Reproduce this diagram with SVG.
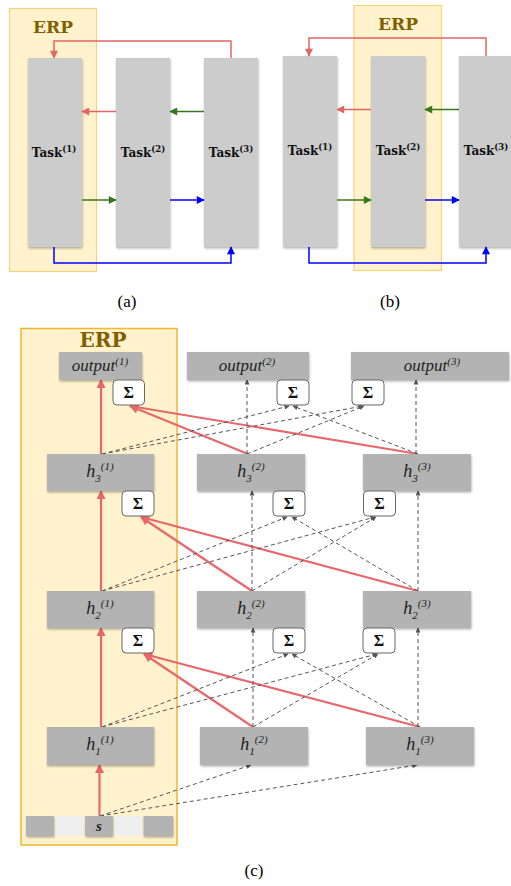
<svg xmlns="http://www.w3.org/2000/svg" width="511" height="886" viewBox="0 0 511 886">
<defs>
<filter id="sh" x="-10%" y="-10%" width="130%" height="140%">
<feDropShadow dx="0.5" dy="1.5" stdDeviation="1" flood-color="#000" flood-opacity="0.3"/>
</filter>
<marker id="aR" viewBox="0 0 10 10" refX="9" refY="5" markerWidth="9" markerHeight="8" markerUnits="userSpaceOnUse" orient="auto"><path d="M0,0 L10,5 L0,10 z" fill="#e06666"/></marker>
<marker id="aG" viewBox="0 0 10 10" refX="9" refY="5" markerWidth="9" markerHeight="8" markerUnits="userSpaceOnUse" orient="auto"><path d="M0,0 L10,5 L0,10 z" fill="#38761d"/></marker>
<marker id="aB" viewBox="0 0 10 10" refX="9" refY="5" markerWidth="9" markerHeight="8" markerUnits="userSpaceOnUse" orient="auto"><path d="M0,0 L10,5 L0,10 z" fill="#0000ff"/></marker>
<marker id="aRc" viewBox="0 0 10 10" refX="9" refY="5" markerWidth="11" markerHeight="9" markerUnits="userSpaceOnUse" orient="auto"><path d="M0,0 L10,5 L0,10 z" fill="#e8676b"/></marker>
<marker id="aD" viewBox="0 0 10 10" refX="9" refY="5" markerWidth="6" markerHeight="5" markerUnits="userSpaceOnUse" orient="auto"><path d="M0,0 L10,5 L0,10 z" fill="#555"/></marker>
</defs>
<style>
.erpA{fill:#fff2cc;stroke:#f3d57e;stroke-width:1.2}
.erpC{fill:#fff2cc;stroke:#f1b72e;stroke-width:1.5}
.erpT{font-family:"DejaVu Serif",serif;font-weight:bold;fill:#7f6000;text-anchor:middle}
.task{fill:#cccccc;filter:url(#sh)}
.taskT{font-family:"DejaVu Serif",serif;font-weight:bold;font-size:12px;fill:#111;text-anchor:middle}
.box{fill:#b3b3b3;filter:url(#sh)}
.lt{fill:#eeeeee}
.sig{fill:#fff;stroke:#666;stroke-width:1}
.sigT{font-family:"Liberation Serif","DejaVu Serif",serif;font-weight:bold;font-size:16px;fill:#111;text-anchor:middle}
.it{font-family:"Liberation Serif",serif;font-style:italic;fill:#222;text-anchor:middle}
.lab{font-family:"Liberation Serif",serif;font-size:17px;fill:#000;text-anchor:middle}
.r{stroke:#e06666;stroke-width:1.5;fill:none;marker-end:url(#aR)}
.g{stroke:#38761d;stroke-width:1.5;fill:none;marker-end:url(#aG)}
.b{stroke:#0000ff;stroke-width:1.5;fill:none;marker-end:url(#aB)}
.rc{stroke:#e8676b;stroke-width:2.2;fill:none;marker-end:url(#aRc)}
.d{stroke:#555;stroke-width:1;stroke-dasharray:4,3;fill:none;marker-end:url(#aD)}
</style>
<rect width="511" height="886" fill="#fff"/>

<!-- (a) -->
<g id="a-erp"><rect class="erpA" x="9.5" y="8.5" width="87" height="263"/><text class="erpT" x="53" y="33" font-size="17">ERP</text></g>
<g id="a-task1"><rect class="task" x="28" y="58" width="54" height="189"/><text class="taskT" x="54" y="157">Task<tspan font-size="8.5" dy="-5">(1)</tspan></text></g>
<g id="a-task2"><rect class="task" x="116" y="58" width="54" height="189"/><text class="taskT" x="143" y="157">Task<tspan font-size="8.5" dy="-5">(2)</tspan></text></g>
<g id="a-task3"><rect class="task" x="204" y="58" width="54" height="189"/><text class="taskT" x="231" y="157">Task<tspan font-size="8.5" dy="-5">(3)</tspan></text></g>
<g id="a-connectors">
<path class="r" d="M231,58 V41 H54 V58"/>
<path class="r" d="M116,111.5 H82"/>
<path class="g" d="M204,111.5 H170"/>
<path class="g" d="M82,200 H116"/>
<path class="b" d="M170,200 H204"/>
<path class="b" d="M54,247 V263 H231 V247"/>
</g>
<text class="lab" x="127" y="307">(a)</text>

<!-- (b) -->
<g id="b-erp"><rect class="erpA" x="354" y="5.5" width="87.5" height="265"/><text class="erpT" x="398" y="30" font-size="17">ERP</text></g>
<g id="b-task1"><rect class="task" x="283" y="56" width="54" height="191"/><text class="taskT" x="310" y="155">Task<tspan font-size="8.5" dy="-5">(1)</tspan></text></g>
<g id="b-task2"><rect class="task" x="371" y="56" width="54" height="191"/><text class="taskT" x="398" y="155">Task<tspan font-size="8.5" dy="-5">(2)</tspan></text></g>
<g id="b-task3"><rect class="task" x="459" y="56" width="54" height="191"/><text class="taskT" x="486" y="155">Task<tspan font-size="8.5" dy="-5">(3)</tspan></text></g>
<g id="b-connectors">
<path class="r" d="M486,56 V38 H309 V56"/>
<path class="r" d="M371,109.5 H337"/>
<path class="g" d="M459,109.5 H425"/>
<path class="g" d="M337,200 H371"/>
<path class="b" d="M425,200 H459"/>
<path class="b" d="M309,247 V263 H486 V247"/>
</g>
<text class="lab" x="390" y="307">(b)</text>

<!-- (c) -->
<g id="c-erp"><rect class="erpC" x="21" y="328.5" width="156" height="516.5"/><text class="erpT" x="103" y="347" font-size="20">ERP</text></g>

<g id="c-connectors">
<path class="rc" d="M99.5,816 V765"/>
<path class="rc" d="M101,727 V628"/>
<path class="rc" d="M101,591 V491"/>
<path class="rc" d="M101,454 V380"/>
<path class="rc" d="M248,454 L130,406"/>
<path class="rc" d="M418,454 L130,406"/>
<path class="rc" d="M252,591 L141,517"/>
<path class="rc" d="M418,591 L141,517"/>
<path class="rc" d="M253,727 L144,654"/>
<path class="rc" d="M420,727 L144,654"/>
<path class="d" d="M100,816 L251,765"/>
<path class="d" d="M100,816 L417,765"/>
<path class="d" d="M253,727 V628"/>
<path class="d" d="M418,727 V628"/>
<path class="d" d="M102,727 L288,654"/>
<path class="d" d="M102,727 L377,654"/>
<path class="d" d="M253,727 L378,654"/>
<path class="d" d="M420,727 L292,654"/>
<path class="d" d="M252,591 V491"/>
<path class="d" d="M418,591 V491"/>
<path class="d" d="M102,591 L287,517"/>
<path class="d" d="M102,591 L375,517"/>
<path class="d" d="M252,591 L376,517"/>
<path class="d" d="M418,591 L292,517"/>
<path class="d" d="M247,454 V380"/>
<path class="d" d="M416,454 V380"/>
<path class="d" d="M102,454 L289,406"/>
<path class="d" d="M102,454 L363,406"/>
<path class="d" d="M247,454 L364,406"/>
<path class="d" d="M418,454 L293,406"/>
</g>

<g id="c-output1"><rect class="box" x="59" y="352" width="83" height="28"/><text class="it" x="100" y="371" font-size="17">output<tspan font-size="11" dy="-6">(1)</tspan></text></g>
<g id="c-output2"><rect class="box" x="187" y="352" width="122" height="28"/><text class="it" x="247" y="371" font-size="17">output<tspan font-size="11" dy="-6">(2)</tspan></text></g>
<g id="c-output3"><rect class="box" x="351" y="352" width="158" height="28"/><text class="it" x="432" y="371" font-size="17">output<tspan font-size="11" dy="-6">(3)</tspan></text></g>

<g id="c-sum-o1"><rect class="sig" x="113" y="380" width="31.5" height="25" rx="4"/><text class="sigT" x="128.7" y="398">Σ</text></g>
<g id="c-sum-o2"><rect class="sig" x="277" y="380" width="32" height="25" rx="4"/><text class="sigT" x="293" y="398">Σ</text></g>
<g id="c-sum-o3"><rect class="sig" x="352" y="380" width="32" height="25" rx="4"/><text class="sigT" x="368" y="398">Σ</text></g>

<g id="c-h3-1"><rect class="box" x="47" y="454" width="107" height="37"/><text class="it" x="100" y="477" font-size="18">h<tspan font-size="11" dy="5">3</tspan><tspan font-size="11" dy="-12">(1)</tspan></text></g>
<g id="c-h3-2"><rect class="box" x="197" y="454" width="108" height="37"/><text class="it" x="251" y="477" font-size="18">h<tspan font-size="11" dy="5">3</tspan><tspan font-size="11" dy="-12">(2)</tspan></text></g>
<g id="c-h3-3"><rect class="box" x="363" y="454" width="108" height="37"/><text class="it" x="417" y="477" font-size="18">h<tspan font-size="11" dy="5">3</tspan><tspan font-size="11" dy="-12">(3)</tspan></text></g>

<g id="c-sum-h3-1"><rect class="sig" x="122" y="491" width="32" height="25" rx="4"/><text class="sigT" x="138" y="509">Σ</text></g>
<g id="c-sum-h3-2"><rect class="sig" x="273" y="491" width="32" height="25" rx="4"/><text class="sigT" x="289" y="509">Σ</text></g>
<g id="c-sum-h3-3"><rect class="sig" x="363.5" y="491" width="32" height="25" rx="4"/><text class="sigT" x="379.5" y="509">Σ</text></g>

<g id="c-h2-1"><rect class="box" x="47" y="591" width="107" height="37"/><text class="it" x="100" y="614" font-size="18">h<tspan font-size="11" dy="5">2</tspan><tspan font-size="11" dy="-12">(1)</tspan></text></g>
<g id="c-h2-2"><rect class="box" x="197" y="591" width="108" height="37"/><text class="it" x="251" y="614" font-size="18">h<tspan font-size="11" dy="5">2</tspan><tspan font-size="11" dy="-12">(2)</tspan></text></g>
<g id="c-h2-3"><rect class="box" x="363" y="591" width="108" height="37"/><text class="it" x="417" y="614" font-size="18">h<tspan font-size="11" dy="5">2</tspan><tspan font-size="11" dy="-12">(3)</tspan></text></g>

<g id="c-sum-h2-1"><rect class="sig" x="122" y="628" width="32" height="25" rx="4"/><text class="sigT" x="138" y="646">Σ</text></g>
<g id="c-sum-h2-2"><rect class="sig" x="273" y="628" width="32" height="25" rx="4"/><text class="sigT" x="289" y="646">Σ</text></g>
<g id="c-sum-h2-3"><rect class="sig" x="363" y="628" width="32" height="25" rx="4"/><text class="sigT" x="379" y="646">Σ</text></g>

<g id="c-h1-1"><rect class="box" x="47" y="727" width="107" height="38"/><text class="it" x="100" y="750" font-size="18">h<tspan font-size="11" dy="5">1</tspan><tspan font-size="11" dy="-12">(1)</tspan></text></g>
<g id="c-h1-2"><rect class="box" x="200" y="727" width="108" height="38"/><text class="it" x="254" y="750" font-size="18">h<tspan font-size="11" dy="5">1</tspan><tspan font-size="11" dy="-12">(2)</tspan></text></g>
<g id="c-h1-3"><rect class="box" x="366" y="727" width="108" height="38"/><text class="it" x="420" y="750" font-size="18">h<tspan font-size="11" dy="5">1</tspan><tspan font-size="11" dy="-12">(3)</tspan></text></g>

<g id="c-input">
<rect class="box" x="26" y="816" width="28" height="20"/>
<rect class="lt" x="55.5" y="816" width="28" height="20"/>
<rect class="box" x="85" y="816" width="28" height="20"/>
<rect class="lt" x="114.5" y="816" width="27.5" height="20"/>
<rect class="box" x="143.5" y="816" width="29.5" height="20"/>
<text class="it" x="99" y="831" font-size="15" font-weight="bold" fill="#222">s</text>
</g>
<text class="lab" x="254" y="876">(c)</text>
</svg>
